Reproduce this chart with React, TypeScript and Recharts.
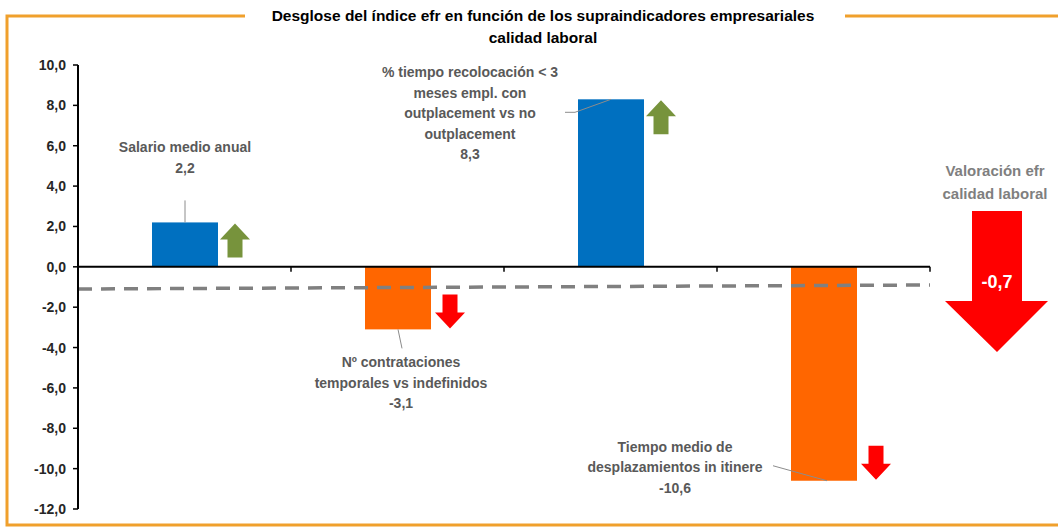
import { BarChart, Bar, XAxis, YAxis, ReferenceLine } from "recharts";

const categories = [
  "Salario medio anual",
  "Nº contrataciones temporales vs indefinidos",
  "% tiempo recolocación < 3 meses empl. con outplacement vs no outplacement",
  "Tiempo medio de desplazamientos in itinere",
];
const labelLines = [
  ["Salario medio anual"],
  ["Nº contrataciones", "temporales vs indefinidos"],
  ["% tiempo recolocación < 3", "meses empl. con", "outplacement vs no", "outplacement"],
  ["Tiempo medio de", "desplazamientos in itinere"],
];
const values = [2.2, -3.1, 8.3, -10.6];
const yTicks = [-12, -10, -8, -6, -4, -2, 0, 2, 4, 6, 8, 10];
const categoryEdges = [1, 2, 3, 4];
// dashed reference (start / end value)
const trendValues = [-1.1, -0.9];
const totalValue = -0.7;
const totalTitle = ["Valoración efr", "calidad laboral"];
const titleLines = [
  "Desglose del índice efr en función de los supraindicadores empresariales",
  "calidad laboral",
];

// label placement relative to the bar end (center x, end y)
const labelLayout = [
  { dx: 0, dy: -75, leader: [[0, -22], [0, 0]] },
  { dx: 3, dy: 33, leader: [[0, 0], [4, 19]] },
  { dx: -141, dy: -27, leader: [[-46, 13], [-36, 13], [0, 0]] },
  { dx: -149, dy: -34, leader: [[-51, -15], [3, 0]] },
];

const data = categories.map((name, i) => ({ name, value: values[i], idx: i + 0.5 }));

const FONT = "'Liberation Sans', Arial, sans-serif";
const fmt = (v: number) => v.toFixed(1).replace(".", ",");

function BarWithArrow(props: any) {
  const { x, y, width, height, payload } = props;
  const top = Math.min(y, y + height);
  const h = Math.abs(height);
  const positive = payload.value >= 0;
  const fill = positive ? "#0070C0" : "#FF6600";
  const cx = x + width / 2;
  const endY = positive ? top : top + h;
  const i0 = categories.indexOf(payload.name);
  const lay = labelLayout[i0];
  const lines = [...labelLines[i0], fmt(payload.value)];

  // small arrow next to the bar
  const ax = x + width + (positive ? 2 : 4);
  const aw = 30;
  const ah = 34;
  const sw = 15;
  const hh = 16;
  let arrow = "";
  if (positive) {
    const t = top + 1;
    arrow = `M${ax},${t + hh} L${ax + aw / 2},${t} L${ax + aw},${t + hh} L${ax + aw / 2 + sw / 2},${t + hh} L${ax + aw / 2 + sw / 2},${t + ah} L${ax + aw / 2 - sw / 2},${t + ah} L${ax + aw / 2 - sw / 2},${t + hh} Z`;
  } else {
    const b = top + h - 1;
    arrow = `M${ax},${b - hh} L${ax + aw / 2},${b} L${ax + aw},${b - hh} L${ax + aw / 2 + sw / 2},${b - hh} L${ax + aw / 2 + sw / 2},${b - ah} L${ax + aw / 2 - sw / 2},${b - ah} L${ax + aw / 2 - sw / 2},${b - hh} Z`;
  }

  return (
    <g>
      <rect x={x} y={top} width={width} height={h} fill={fill} />
      <path d={arrow} fill={positive ? "#77933C" : "#FF0000"} />
      <polyline
        points={lay.leader.map((p) => `${cx + p[0]},${endY + p[1]}`).join(" ")}
        fill="none"
        stroke="#8c8c8c"
        strokeWidth={1}
      />
      {lines.map((t, i) => (
        <text
          key={i}
          x={cx + lay.dx}
          y={endY + lay.dy + i * 20.5}
          textAnchor="middle"
          dominantBaseline="central"
          fontFamily={FONT}
          fontWeight="bold"
          fontSize={14}
          fill="#595959"
        >
          {t}
        </text>
      ))}
    </g>
  );
}

export default function App() {
  const orange = "#F0A02C";
  return (
    <div style={{ position: "absolute", left: 0, top: 0, width: 1058, height: 527, background: "#fff" }}>
      <BarChart
        width={1058}
        height={527}
        data={data}
        margin={{ top: 65, right: 128, bottom: 18, left: 10 }}
        barSize={66}
      >
        <XAxis xAxisId="c" dataKey="name" hide />
        <XAxis
          xAxisId="n"
          dataKey="idx"
          type="number"
          domain={[0, 4]}
          allowDataOverflow
          hide
        />
        <YAxis
          domain={[-12, 10]}
          ticks={yTicks}
          interval={0}
          tickFormatter={fmt}
          width={68}
          axisLine={{ stroke: "#000", strokeWidth: 2 }}
          tickLine={{ stroke: "#000", strokeWidth: 1.5 }}
          tickSize={5}
          tickMargin={7}
          tick={{ fill: "#262626", fontSize: 14, fontWeight: "bold", fontFamily: FONT }}
        />
        <Bar
          xAxisId="c"
          dataKey="value"
          shape={<BarWithArrow />}
          isAnimationActive={false}
        />
        <ReferenceLine
          xAxisId="n"
          segment={[{ x: 0, y: 0 }, { x: 4, y: 0 }]}
          stroke="#000"
          strokeWidth={2}
        />
        {categoryEdges.map((e) => (
          <ReferenceLine
            key={e}
            xAxisId="n"
            segment={[{ x: e, y: 0 }, { x: e, y: -0.25 }]}
            stroke="#000"
            strokeWidth={1.5}
          />
        ))}
        <ReferenceLine
          xAxisId="n"
          segment={[{ x: 0, y: trendValues[0] }, { x: 4, y: trendValues[1] }]}
          stroke="#808080"
          strokeWidth={3.5}
          strokeDasharray="14 9"
        />
      </BarChart>
      <svg
        width={1058}
        height={527}
        style={{ position: "absolute", left: 0, top: 0, pointerEvents: "none" }}
      >
        <polyline points="245,16 7,16 7,525 1058,525" fill="none" stroke={orange} strokeWidth={3} />
        <line x1={845} y1={16} x2={1058} y2={16} stroke={orange} strokeWidth={3} />
        {titleLines.map((t, i) => (
          <text
            key={i}
            x={543}
            y={15 + i * 22}
            textAnchor="middle"
            dominantBaseline="central"
            fontFamily={FONT}
            fontWeight="bold"
            fontSize={15.5}
            fill="#000"
          >
            {t}
          </text>
        ))}
        {totalTitle.map((t, i) => (
          <text
            key={i}
            x={995}
            y={170 + i * 23}
            textAnchor="middle"
            dominantBaseline="central"
            fontFamily={FONT}
            fontWeight="bold"
            fontSize={15}
            fill="#7F7F7F"
          >
            {t}
          </text>
        ))}
        <path
          d="M972,211 L1022,211 L1022,301 L1048,301 L997,352 L945,301 L972,301 Z"
          fill="#FF0000"
        />
        <text
          x={997}
          y={282}
          textAnchor="middle"
          dominantBaseline="central"
          fontFamily={FONT}
          fontWeight="bold"
          fontSize={18}
          fill="#fff"
        >
          {fmt(totalValue)}
        </text>
      </svg>
    </div>
  );
}
